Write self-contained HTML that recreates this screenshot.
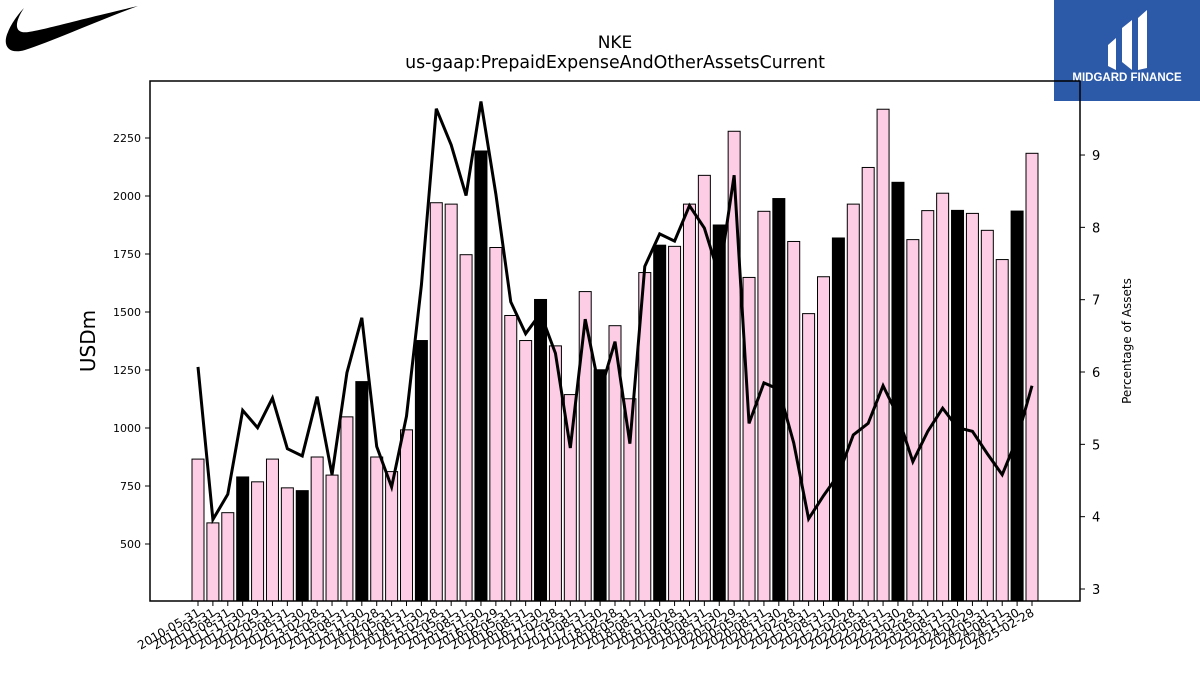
<!DOCTYPE html>
<html><head><meta charset="utf-8"><style>
body{margin:0;background:#fff;width:1200px;height:675px;overflow:hidden;font-family:"Liberation Sans","DejaVu Sans",sans-serif}
</style></head><body>
<svg id="chart" width="1200" height="675" xmlns="http://www.w3.org/2000/svg" font-family="'DejaVu Sans','Liberation Sans',sans-serif">
<path d="M138,6 C100,20 50,42 25,50 C8,55 2,45 8,32 C12,22 20,12 24,8 C16,20 14,30 22,32 C30,34 60,24 138,6 Z" fill="#000"/>
<g>
<rect x="1054" y="0" width="146" height="101" fill="#2c5aa8"/>
<path d="M1108,45 L1116,38 L1116,70 L1108,66 Z M1122,28 L1132,20 L1132,70 L1122,62 Z M1138,18 L1147,10 L1147,68 L1138,70 Z" fill="#fff"/>
<text x="1127" y="81" font-size="11.5" font-weight="bold" fill="#fff" text-anchor="middle" font-family="'Liberation Sans',sans-serif">MIDGARD FINANCE</text>
</g>
<text x="615" y="48" font-size="17" text-anchor="middle">NKE</text>
<text x="615" y="68" font-size="17.4" text-anchor="middle">us-gaap:PrepaidExpenseAndOtherAssetsCurrent</text>
<text transform="translate(95,341) rotate(-90)" font-size="20" text-anchor="middle">USDm</text>
<text transform="translate(1131,341) rotate(-90)" font-size="12" text-anchor="middle">Percentage of Assets</text>
<g id="bars"></g><g id="line"></g><g id="axes"></g>
<rect x="150" y="81" width="930" height="520" fill="none" stroke="#000" stroke-width="1.5"/>
</svg>
<script>
const categories=["2010-05-31","2011-05-31","2011-08-31","2011-11-30","2012-02-29","2012-05-31","2012-08-31","2012-11-30","2013-02-28","2013-05-31","2013-08-31","2013-11-30","2014-02-28","2014-05-31","2014-08-31","2014-11-30","2015-02-28","2015-05-31","2015-08-31","2015-11-30","2016-02-29","2016-05-31","2016-08-31","2016-11-30","2017-02-28","2017-05-31","2017-08-31","2017-11-30","2018-02-28","2018-05-31","2018-08-31","2018-11-30","2019-02-28","2019-05-31","2019-08-31","2019-11-30","2020-02-29","2020-05-31","2020-08-31","2020-11-30","2021-02-28","2021-05-31","2021-08-31","2021-11-30","2022-02-28","2022-05-31","2022-08-31","2022-11-30","2023-02-28","2023-05-31","2023-08-31","2023-11-30","2024-02-29","2024-05-31","2024-08-31","2024-11-30","2025-02-28"];
const values=[866,591,635,789,768,866,742,730,875,797,1048,1200,875,812,992,1377,1971,1965,1747,2194,1778,1485,1377,1554,1354,1144,1588,1251,1441,1126,1670,1788,1783,1965,2089,1875,2279,1649,1934,1989,1804,1493,1652,1819,1965,2123,2374,2059,1812,1937,2012,1938,1925,1852,1726,1935,2184];
const pct=[6.07,3.96,4.31,5.47,5.23,5.64,4.94,4.84,5.66,4.58,5.99,6.75,4.97,4.41,5.39,7.2,9.64,9.14,8.44,9.74,8.46,6.97,6.53,6.81,6.26,4.95,6.73,5.72,6.42,5.01,7.46,7.91,7.81,8.30,7.99,7.33,8.72,5.29,5.85,5.76,5.02,3.97,4.29,4.58,5.13,5.29,5.81,5.39,4.76,5.18,5.50,5.23,5.18,4.87,4.58,5.08,5.81];
const yTicks=[500,750,1000,1250,1500,1750,2000,2250];
const y2Ticks=[3,4,5,6,7,8,9];
const NS="http://www.w3.org/2000/svg";
const X=i=>198+i*(834/56);
const Y=v=>544-(v-500)*58/250;
const Y2=p=>589-(p-3)*72.33;
const bottom=601;
function mk(t,a,p){const e=document.createElementNS(NS,t);for(const k in a)e.setAttribute(k,a[k]);p.appendChild(e);return e;}
const gb=document.getElementById('bars'),gl=document.getElementById('line'),ga=document.getElementById('axes');
values.forEach((v,i)=>{
 const fye=(i%4===3);
 const r=mk('rect',{x:X(i)-6,y:Y(v),width:12,height:bottom-Y(v),fill:fye?'#000':'#fccde5',stroke:'#000','stroke-width':1},gb);
 
 
 const t=mk('line',{x1:X(i),x2:X(i),y1:bottom,y2:bottom+5,stroke:'#000'},ga);
 
 
 const l=mk('text',{transform:`translate(${X(i)+3},${bottom+14}) rotate(-30)`,'font-size':12,'text-anchor':'end'},ga);
 l.textContent=categories[i];
 
 
});
const pl=mk('polyline',{points:pct.map((p,i)=>X(i)+','+Y2(p)).join(' '),fill:'none',stroke:'#000','stroke-width':3},gl);


yTicks.forEach(v=>{
 const t=mk('line',{x1:145,x2:150,y1:Y(v),y2:Y(v),stroke:'#000'},ga);
 
 
 const l=mk('text',{x:141,y:Y(v)+4,'font-size':11,'text-anchor':'end'},ga);
 l.textContent=v;
 
 
});
y2Ticks.forEach(p=>{
 const t=mk('line',{x1:1080,x2:1085,y1:Y2(p),y2:Y2(p),stroke:'#000'},ga);
 
 
 const l=mk('text',{x:1092,y:Y2(p)+5,'font-size':13},ga);
 l.textContent=p;
 
 
});
</script>
</body></html>
